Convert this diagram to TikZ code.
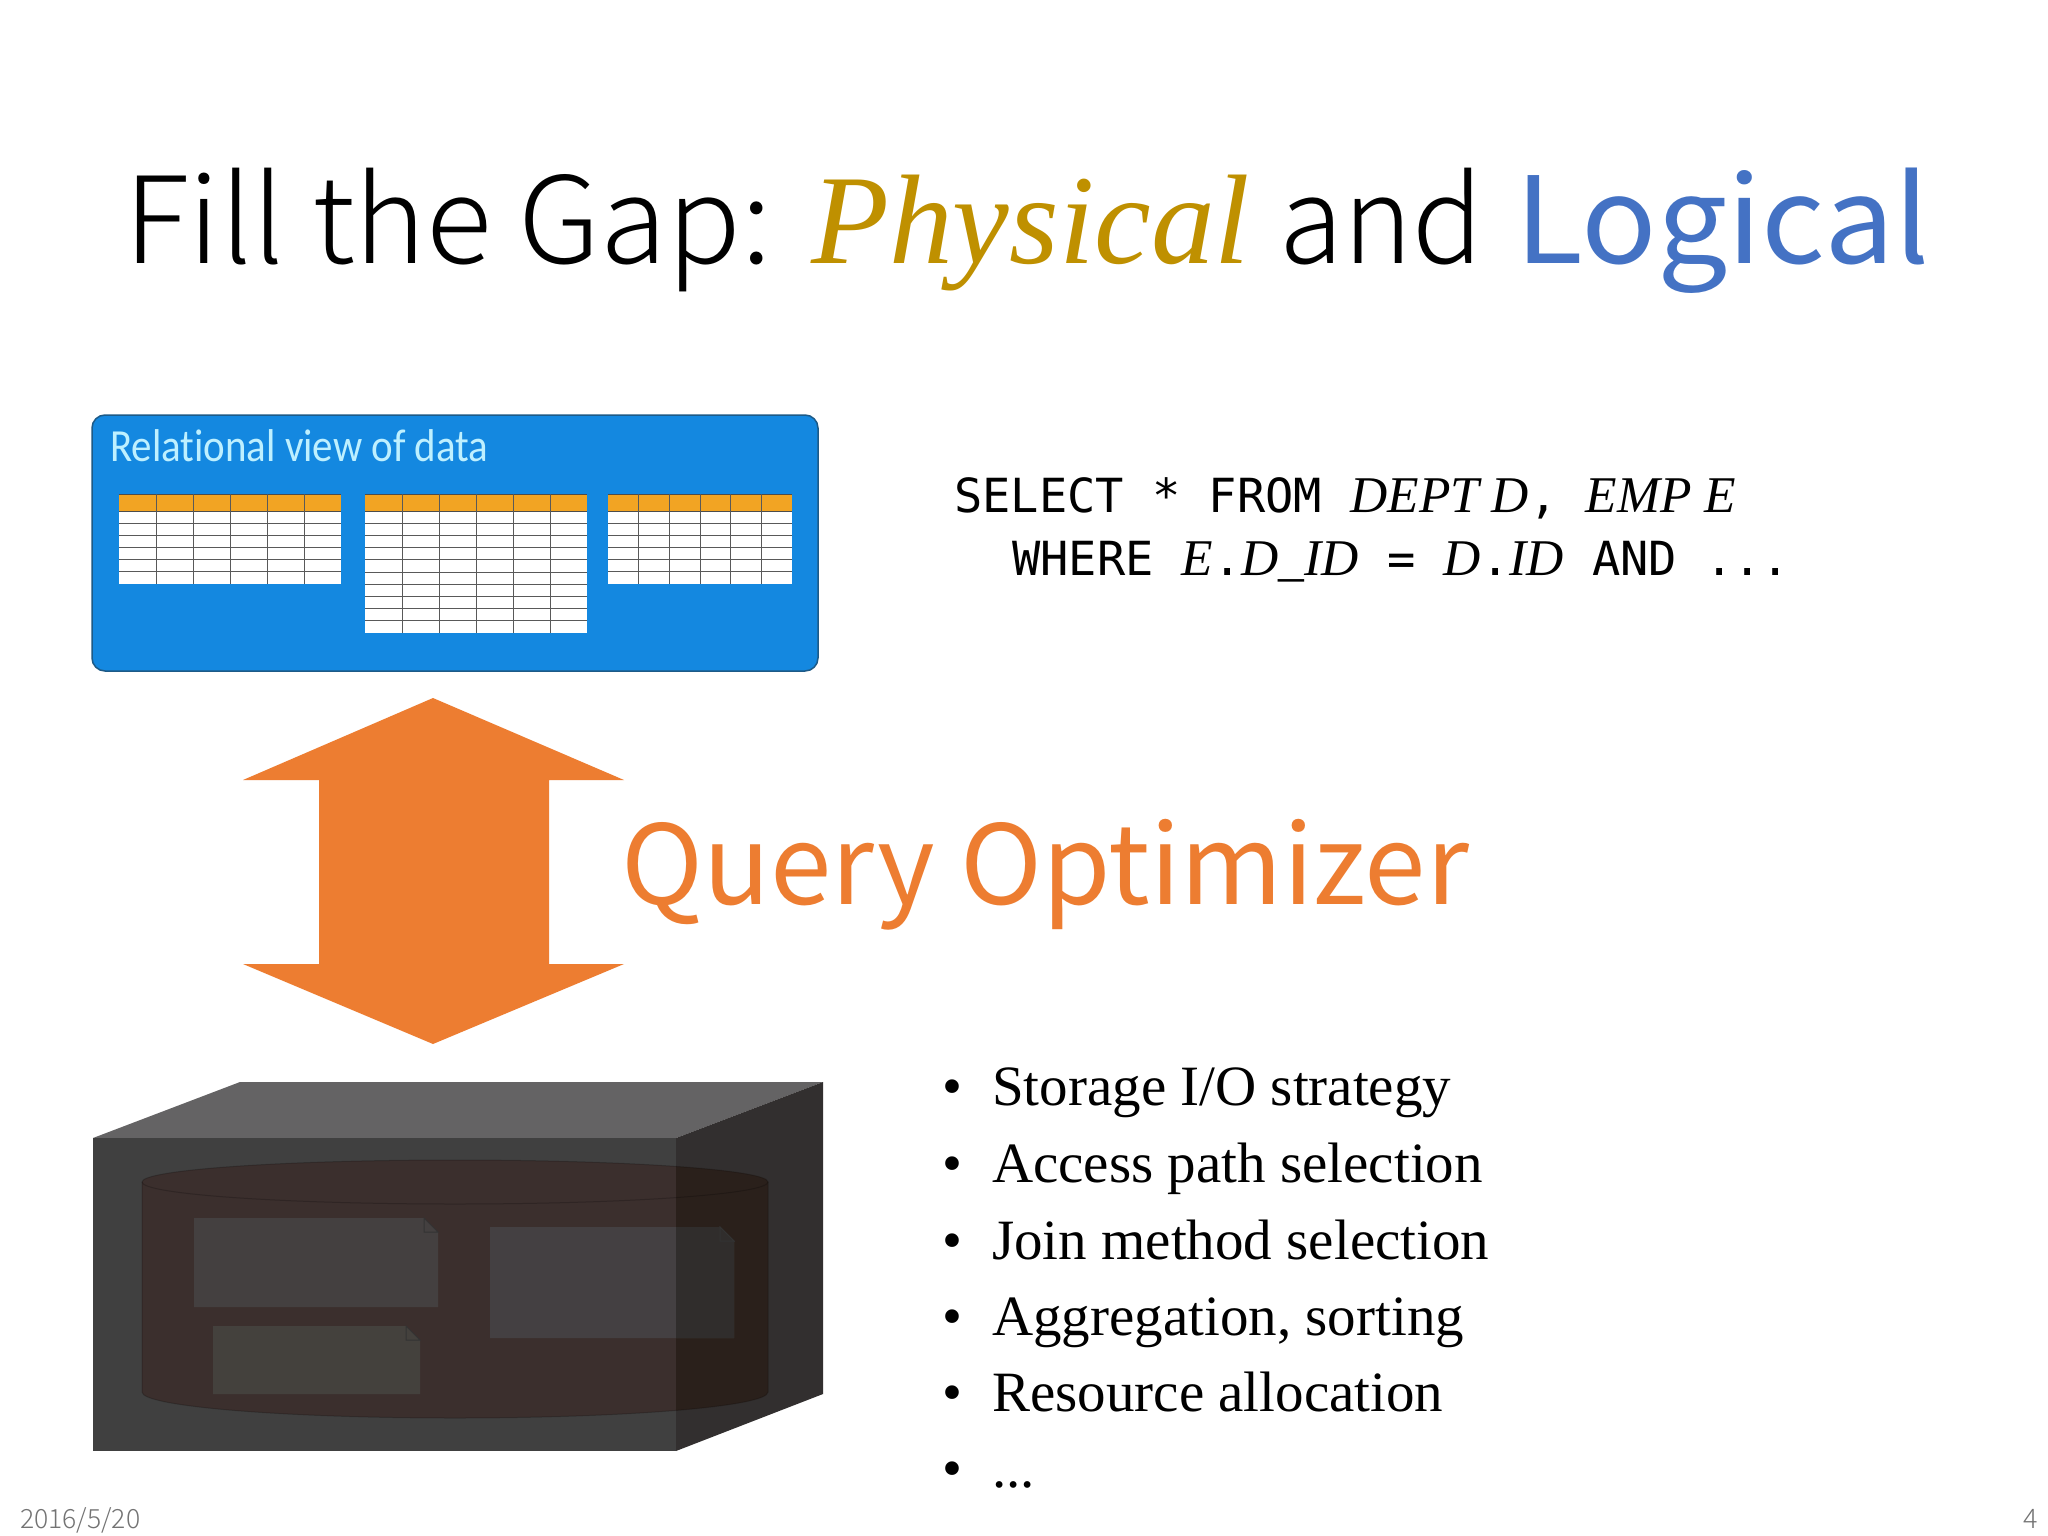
\documentclass[tikz,border=0pt]{standalone}
\usepackage{fontspec}
\setmainfont{Liberation Serif}
\newfontfamily\thinsans{Noto Sans CJK JP Light}
\newfontfamily\regsans{Noto Sans CJK JP}
\newfontfamily\cali[Ligatures=NoCommon]{Carlito}
\newfontfamily\monof{DejaVu Sans Mono}
\newfontfamily\serifit{Liberation Serif}
\definecolor{orangeq}{HTML}{ED7D31}
\definecolor{goldt}{HTML}{BF9000}
\definecolor{bluet}{HTML}{4472C4}
\definecolor{TabHdr}{HTML}{F2A423}
\definecolor{panelblue}{HTML}{1488E0}
\definecolor{paneledge}{HTML}{1D5A87}
\definecolor{paneltext}{HTML}{BEF0FF}
\definecolor{boxtop}{HTML}{646364}
\definecolor{boxright}{HTML}{322F2F}
\definecolor{boxfront}{HTML}{404040}
\definecolor{cylfront}{HTML}{3B2F2D}
\definecolor{cylright}{HTML}{2A201B}
\definecolor{docone}{HTML}{444040}
\definecolor{doctwo}{HTML}{444042}
\definecolor{doctwor}{HTML}{302D2C}
\definecolor{docthree}{HTML}{44413D}
\newcommand{\fs}[1]{\fontsize{#1}{#1}\selectfont}
\newcommand{\sqlit}[1]{{\serifit\itshape\fontsize{51.5}{51.5}\selectfont #1}}
\newcommand{\gridtable}[6]{%
  \fill[white] (#1,#3) rectangle (#2,#5);
  \pgfmathsetmacro{\rowh}{(#5-#4)/#6}
  \foreach \r in {1,...,#6}{\pgfmathsetmacro{\yy}{#4+\r*\rowh-\rowh}\draw[gridline] (#1,\yy) -- (#2,\yy);}
  \fill[TabHdr] (#1,#3) rectangle (#2,#4);
  \draw[headerline] (#1,#4) -- (#2,#4);
  \draw[headerline] (#1,#3) -- (#2,#3);
  \pgfmathsetmacro{\colw}{(#2-#1)/6}
  \foreach \c in {1,...,5}{\pgfmathsetmacro{\xx}{#1+\c*\colw}\draw[gridline] (\xx,#3) -- (\xx,#5);}
}
\newcommand{\docfold}[2]{\draw[foldline] (#1-14,#2) -- (#1-14,#2+14) -- (#1,#2+14) -- cycle;}
\newcommand{\docshape}[5]{%
  \fill[#5] (#1,#3) -- (#2-14,#3) -- (#2,#3+14) -- (#2,#4) -- (#1,#4) -- cycle;
  \docfold{#2}{#3}
}
\tikzset{
  gridline/.style={draw=black!65,line width=1pt},
  headerline/.style={draw=black!70,line width=1pt},
  foldline/.style={draw=black!80,line width=1pt},
  cylline/.style={draw=black,line width=1pt,opacity=.2},
  bullettext/.style={anchor=base west,inner sep=0pt,font=\fs{57}},
  bulletmark/.style={anchor=base,inner sep=0pt,font=\fs{57}},
  tt/.style={anchor=base west,inner sep=0pt},
}
\begin{document}
\begin{tikzpicture}[x=1pt,y=-1pt]
\useasboundingbox (0,0) rectangle (2048,1536);
\fill[white] (0,0) rectangle (2048,1536);
% title
\node[tt,font=\thinsans\fs{120}] (t1) at (124,263) {\scalebox{1.015}[1]{Fill the Gap:}};
\node[tt,font=\serifit\itshape\fs{127.5},text=goldt] (t2) at (811,263) {Physical};
\node[tt,font=\thinsans\fs{120}] (t3) at (1279,263) {\scalebox{0.974}[1]{and}};
\node[tt,font=\regsans\fs{120},text=bluet] (t4) at (1515,263) {\scalebox{1.04}[1]{Logical}};
% blue box
\draw[fill=panelblue,draw=paneledge,line width=1.5pt,rounded corners=13pt] (92,415) rectangle (818,671);
\node[tt,font=\cali\fs{46},text=paneltext] (rel) at (110,461) {\scalebox{0.89}[1]{Relational view of data}};
\gridtable{119}{341}{494}{511}{584}{6}
\gridtable{365}{587}{494}{511}{633}{10}
\gridtable{608}{792}{494}{511}{584}{6}
% arrow
\fill[orangeq] (433,698) -- (624,780) -- (549,780) -- (549,964) -- (624,964) -- (433,1044) -- (243,964) -- (319,964) -- (319,780) -- (243,780) -- cycle;
\node[tt,font=\regsans\fs{110},text=orangeq] (q) at (621,904) {\scalebox{1.005}[1]{Query Optimizer}};
% sql
\node[tt,font=\monof\fs{47}] (s1) at (954,512) {SELECT * FROM \sqlit{DEPT D}, \sqlit{EMP E}};
\node[tt,font=\monof\fs{47}] (s2) at (1012,575) {WHERE \sqlit{E}.\sqlit{D\_ID} = \sqlit{D}.\sqlit{ID} AND ...};
% box
\fill[boxtop] (93,1138) -- (240,1082) -- (823,1082) -- (676,1138) -- cycle;
\fill[boxright] (676,1138) -- (823,1082) -- (823,1394) -- (676,1451) -- cycle;
\fill[boxfront] (93,1138) rectangle (676,1451);
% cylinder
\fill[cylfront] (142,1182) arc[start angle=180,end angle=360,x radius=313,y radius=22] -- (768,1392) arc[start angle=0,end angle=180,x radius=313,y radius=26] -- cycle;
\begin{scope}
\clip (676,1082) rectangle (823,1451);
\fill[cylright] (142,1182) arc[start angle=180,end angle=360,x radius=313,y radius=22] -- (768,1392) arc[start angle=0,end angle=180,x radius=313,y radius=26] -- cycle;
\end{scope}
\draw[cylline] (142,1182) arc[start angle=180,end angle=360,x radius=313,y radius=22] -- (768,1392) arc[start angle=0,end angle=180,x radius=313,y radius=26] -- cycle;
\draw[cylline] (142,1182) arc[start angle=180,end angle=0,x radius=313,y radius=22];
% documents
\docshape{194}{438}{1218}{1307}{docone}
\docshape{490}{734}{1227}{1338}{doctwo}
\fill[doctwor] (676,1227) -- (720,1227) -- (734,1241) -- (734,1338) -- (676,1338) -- cycle;
\docfold{734}{1227}
\docshape{213}{420}{1326}{1394}{docthree}
% bullets
\node[bulletmark] (b1) at (952,1105) {•};
\node[bullettext] (i1) at (992,1105) {Storage I/O strategy};
\node[bulletmark] (b2) at (952,1182) {•};
\node[bullettext] (i2) at (992,1182) {Access path selection};
\node[bulletmark] (b3) at (952,1259) {•};
\node[bullettext] (i3) at (992,1259) {Join method selection};
\node[bulletmark] (b4) at (952,1335) {•};
\node[bullettext] (i4) at (992,1335) {Aggregation, sorting};
\node[bulletmark] (b5) at (952,1411) {•};
\node[bullettext] (i5) at (992,1411) {Resource allocation};
\node[bulletmark] (b6) at (952,1487) {•};
\node[bullettext] (i6) at (992,1487) {...};
% footer
\node[tt,font=\thinsans\fs{26.5},text=black!55] (d) at (20,1528) {2016/5/20};
\node[tt,anchor=base east,font=\thinsans\fs{27},text=black!55] (n) at (2038,1528) {4};
\end{tikzpicture}
\end{document}
